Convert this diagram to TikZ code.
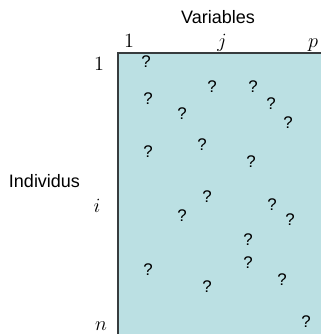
\documentclass[tikz,border=0pt]{standalone}
\usepackage{fontspec}
\setsansfont{Liberation Sans}
\usetikzlibrary{positioning}
\definecolor{cellfill}{RGB}{187,224,227}
\definecolor{celledge}{RGB}{55,60,62}

\begin{document}
\begin{tikzpicture}[x=0.25mm, y=-0.25mm, every node/.style={inner sep=0pt},
  title/.style={font=\sffamily\fontsize{12.8}{14}\selectfont, anchor=base},
  index/.style={font=\fontsize{14}{16}\selectfont, anchor=base},
  unknown/.style={font=\sffamily\fontsize{12}{14}\selectfont}]

\useasboundingbox (0,0) rectangle (321,334);

% Data table
\fill[cellfill] (118,53) rectangle (321,334);
\draw[celledge, line width=1pt] (118,334) -- (118,53) -- (321,53);

% Titles
\node[title] (vars) at (218,23) {Variables};
\node[title] (indiv) at (44.5,187) {Individus};

% Column indices
\node[index] (c1) at (129,47) {$1$};
\node[index] (cj) at (222,47) {$j$};
\node[index] (cp) at (313,47) {$p$};

% Row indices
\node[index] (r1) at (99,70) {$1$};
\node[index] (ri) at (97,212) {$i$};
\node[index] (rn) at (101,330) {$n$};

% Unknown values
\node[unknown] (q1) at (146,62) {?};
\node[unknown] (q2) at (148,99) {?};
\node[unknown] (q3) at (212,87) {?};
\node[unknown] (q4) at (253,87) {?};
\node[unknown] (q5) at (271,104) {?};
\node[unknown] (q6) at (182,114) {?};
\node[unknown] (q7) at (288,123) {?};
\node[unknown] (q8) at (148,152) {?};
\node[unknown] (q9) at (202,145) {?};
\node[unknown] (q10) at (251,162) {?};
\node[unknown] (q11) at (207,197) {?};
\node[unknown] (q12) at (182,216) {?};
\node[unknown] (q13) at (272,205) {?};
\node[unknown] (q14) at (290,220) {?};
\node[unknown] (q15) at (248,240) {?};
\node[unknown] (q16) at (248,263) {?};
\node[unknown] (q17) at (148,270) {?};
\node[unknown] (q18) at (207,287) {?};
\node[unknown] (q19) at (282,280) {?};
\node[unknown] (q20) at (306,322) {?};

\end{tikzpicture}
\end{document}
